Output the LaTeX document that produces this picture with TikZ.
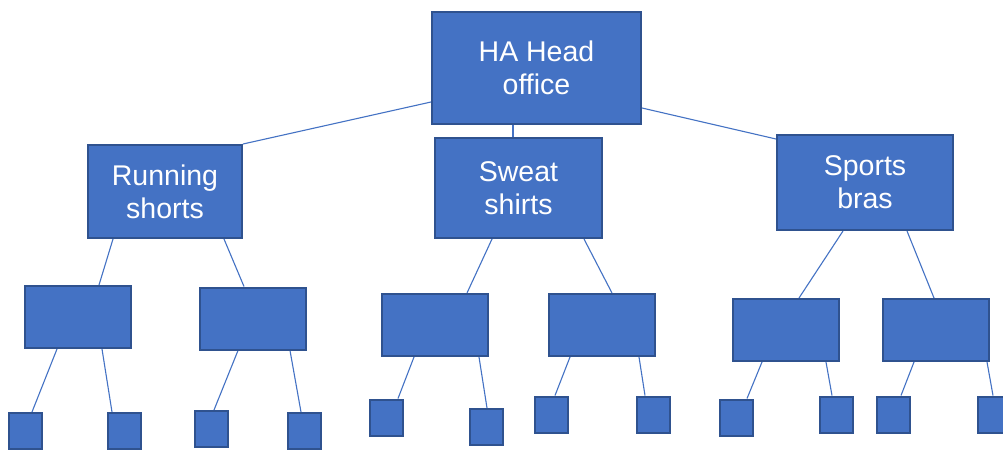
\documentclass[tikz,border=0pt]{standalone}
\usepackage{fontspec}
\setmainfont{Liberation Sans}
\usetikzlibrary{backgrounds}
\definecolor{boxfill}{HTML}{4472C4}
\definecolor{boxline}{HTML}{2F528F}
\definecolor{conn}{HTML}{4472C4}
\tikzset{
  box/.style={draw=boxline, fill=boxfill, line width=2pt, inner sep=0pt,
    text=white, align=center, font=\fontsize{28.5}{33}\selectfont},
  mid/.style={box, minimum width=106pt, minimum height=62pt},
  leaf/.style={box, minimum width=33pt, minimum height=36pt},
  link/.style={draw=conn, line width=1.1pt}
}
\begin{document}
\begin{tikzpicture}[x=1pt,y=-1pt]
\clip (0,0) rectangle (1003,450);
% level 1
\node[box, minimum width=209pt, minimum height=112pt] (head) at (536.5,68) {HA Head\\office};
% level 2
\node[box, minimum width=154pt, minimum height=93pt] (run) at (165,191.5) {Running\\shorts};
\node[box, minimum width=167pt, minimum height=100pt] (sweat) at (518.5,188) {Sweat\\shirts};
\node[box, minimum width=176pt, minimum height=95pt] (sports) at (865,182.5) {Sports\\bras};
% level 3
\node[mid] (a) at (77.5,317) {};
\node[mid] (b) at (253,318.5) {};
\node[mid] (c) at (435,325) {};
\node[mid] (d) at (602,325) {};
\node[mid] (e) at (785.5,330) {};
\node[mid] (f) at (936,330) {};
% level 4
\node[leaf] (s1) at (25.5,431) {};
\node[leaf] (s2) at (124,431) {};
\node[leaf] (s3) at (211,429) {};
\node[leaf] (s4) at (304,431) {};
\node[leaf] (s5) at (386,417.5) {};
\node[leaf] (s6) at (486,427) {};
\node[leaf] (s7) at (551.5,414.5) {};
\node[leaf] (s8) at (653.5,414.5) {};
\node[leaf] (s9) at (736.5,417.5) {};
\node[leaf] (s10) at (836.5,414.5) {};
\node[leaf] (s11) at (893.5,414.5) {};
\node[leaf] (s12) at (994.5,414.5) {};
\begin{scope}[on background layer]
\fill[white] (0,0) rectangle (1003,450);
\draw[link] ([yshift=-34pt]head.west) -- (run.north east);
\draw[link] ([xshift=-23.5pt]head.south) -- ([xshift=-5.5pt]sweat.north);
\draw[link] ([yshift=-40pt]head.east) -- ([yshift=-5pt]sports.north west);
\draw[link] ([xshift=-52pt]run.south) -- ([xshift=21.5pt]a.north);
\draw[link] ([xshift=59pt]run.south) -- ([xshift=-9pt]b.north);
\draw[link] ([xshift=-26.5pt]sweat.south) -- ([xshift=32pt]c.north);
\draw[link] ([xshift=65.5pt]sweat.south) -- ([xshift=10pt]d.north);
\draw[link] ([xshift=-22pt]sports.south) -- ([xshift=13.5pt]e.north);
\draw[link] ([xshift=42pt]sports.south) -- ([xshift=-2pt]f.north);
\draw[link] ([xshift=-20.5pt]a.south) -- ([xshift=6.5pt]s1.north);
\draw[link] ([xshift=24.5pt]a.south) -- ([xshift=-12pt]s2.north);
\draw[link] ([xshift=-15pt]b.south) -- ([xshift=3pt]s3.north);
\draw[link] ([xshift=37pt]b.south) -- ([xshift=-3pt]s4.north);
\draw[link] ([xshift=-21pt]c.south) -- ([xshift=12pt]s5.north);
\draw[link] ([xshift=44pt]c.south) -- ([xshift=1pt]s6.north);
\draw[link] ([xshift=-32pt]d.south) -- ([xshift=3.5pt]s7.north);
\draw[link] ([xshift=37pt]d.south) -- ([xshift=-8.5pt]s8.north);
\draw[link] ([xshift=-23.5pt]e.south) -- ([xshift=10.5pt]s9.north);
\draw[link] ([xshift=40.5pt]e.south) -- ([xshift=-4.5pt]s10.north);
\draw[link] ([xshift=-22pt]f.south) -- ([xshift=7.5pt]s11.north);
\draw[link] ([xshift=51pt]f.south) -- ([xshift=-1.5pt]s12.north);
\end{scope}
\end{tikzpicture}
\end{document}
